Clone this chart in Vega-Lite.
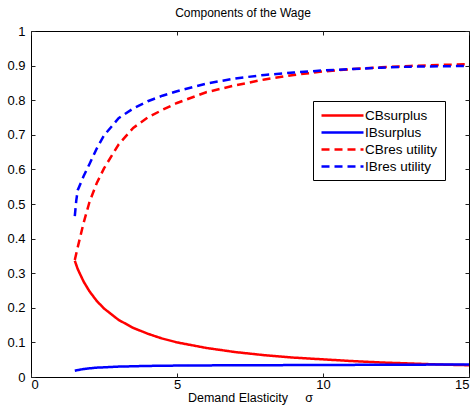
{
  "$schema": "https://vega.github.io/schema/vega-lite/v6.json",
  "autosize": "none",
  "width": 438,
  "height": 346,
  "padding": {"left": 31, "top": 31, "right": 6, "bottom": 34},
  "background": "white",
  "title": {"text": "Components of the Wage", "font": "Liberation Sans", "fontSize": 12, "fontWeight": "normal", "color": "black", "offset": 5, "dx": -7},
  "config": {
    "view": {"stroke": "black", "strokeWidth": 1},
    "axis": {"grid": false, "domain": false, "tickColor": "#222", "tickSize": -4, "labelFont": "Liberation Sans", "labelFontSize": 13, "labelColor": "black", "titleFont": "Liberation Sans", "titleFontSize": 12.5, "titleFontWeight": "normal", "titleColor": "black"},
    "legend": {"orient": "none", "legendX": 282, "legendY": 70, "strokeColor": "black", "fillColor": "white", "padding": 7, "symbolType": "M-1,0H6", "symbolSize": 144, "symbolStrokeWidth": 2.5, "labelFont": "Liberation Sans", "labelFontSize": 13.5, "labelColor": "black", "rowPadding": 3, "title": null, "labelOffset": 30}
  },
  "data": {"values": [
    {"sigma": 1.5, "value": 0.336, "series": "CBsurplus"},
    {"sigma": 1.6, "value": 0.312, "series": "CBsurplus"},
    {"sigma": 1.8, "value": 0.276, "series": "CBsurplus"},
    {"sigma": 2, "value": 0.248, "series": "CBsurplus"},
    {"sigma": 2.25, "value": 0.22, "series": "CBsurplus"},
    {"sigma": 2.5, "value": 0.198, "series": "CBsurplus"},
    {"sigma": 3, "value": 0.165, "series": "CBsurplus"},
    {"sigma": 3.5, "value": 0.142, "series": "CBsurplus"},
    {"sigma": 4, "value": 0.125, "series": "CBsurplus"},
    {"sigma": 4.5, "value": 0.111, "series": "CBsurplus"},
    {"sigma": 5, "value": 0.1, "series": "CBsurplus"},
    {"sigma": 6, "value": 0.084, "series": "CBsurplus"},
    {"sigma": 7, "value": 0.072, "series": "CBsurplus"},
    {"sigma": 8, "value": 0.063, "series": "CBsurplus"},
    {"sigma": 9, "value": 0.056, "series": "CBsurplus"},
    {"sigma": 10, "value": 0.051, "series": "CBsurplus"},
    {"sigma": 11, "value": 0.046, "series": "CBsurplus"},
    {"sigma": 12, "value": 0.042, "series": "CBsurplus"},
    {"sigma": 13, "value": 0.039, "series": "CBsurplus"},
    {"sigma": 14, "value": 0.036, "series": "CBsurplus"},
    {"sigma": 15, "value": 0.034, "series": "CBsurplus"},
    {"sigma": 1.5, "value": 0.018, "series": "IBsurplus"},
    {"sigma": 1.6, "value": 0.02, "series": "IBsurplus"},
    {"sigma": 1.8, "value": 0.023, "series": "IBsurplus"},
    {"sigma": 2, "value": 0.025, "series": "IBsurplus"},
    {"sigma": 2.25, "value": 0.027, "series": "IBsurplus"},
    {"sigma": 2.5, "value": 0.028, "series": "IBsurplus"},
    {"sigma": 3, "value": 0.03, "series": "IBsurplus"},
    {"sigma": 3.5, "value": 0.031, "series": "IBsurplus"},
    {"sigma": 4, "value": 0.032, "series": "IBsurplus"},
    {"sigma": 4.5, "value": 0.0325, "series": "IBsurplus"},
    {"sigma": 5, "value": 0.033, "series": "IBsurplus"},
    {"sigma": 6, "value": 0.0335, "series": "IBsurplus"},
    {"sigma": 7, "value": 0.034, "series": "IBsurplus"},
    {"sigma": 8, "value": 0.034, "series": "IBsurplus"},
    {"sigma": 9, "value": 0.0345, "series": "IBsurplus"},
    {"sigma": 10, "value": 0.035, "series": "IBsurplus"},
    {"sigma": 11, "value": 0.035, "series": "IBsurplus"},
    {"sigma": 12, "value": 0.0355, "series": "IBsurplus"},
    {"sigma": 13, "value": 0.0355, "series": "IBsurplus"},
    {"sigma": 14, "value": 0.036, "series": "IBsurplus"},
    {"sigma": 15, "value": 0.036, "series": "IBsurplus"},
    {"sigma": 1.5, "value": 0.338, "series": "CBres utility"},
    {"sigma": 1.6, "value": 0.375, "series": "CBres utility"},
    {"sigma": 1.8, "value": 0.445, "series": "CBres utility"},
    {"sigma": 2, "value": 0.505, "series": "CBres utility"},
    {"sigma": 2.25, "value": 0.56, "series": "CBres utility"},
    {"sigma": 2.5, "value": 0.603, "series": "CBres utility"},
    {"sigma": 3, "value": 0.672, "series": "CBres utility"},
    {"sigma": 3.5, "value": 0.72, "series": "CBres utility"},
    {"sigma": 4, "value": 0.75, "series": "CBres utility"},
    {"sigma": 4.5, "value": 0.772, "series": "CBres utility"},
    {"sigma": 5, "value": 0.792, "series": "CBres utility"},
    {"sigma": 6, "value": 0.823, "series": "CBres utility"},
    {"sigma": 7, "value": 0.843, "series": "CBres utility"},
    {"sigma": 8, "value": 0.86, "series": "CBres utility"},
    {"sigma": 9, "value": 0.873, "series": "CBres utility"},
    {"sigma": 10, "value": 0.883, "series": "CBres utility"},
    {"sigma": 11, "value": 0.89, "series": "CBres utility"},
    {"sigma": 12, "value": 0.895, "series": "CBres utility"},
    {"sigma": 13, "value": 0.899, "series": "CBres utility"},
    {"sigma": 14, "value": 0.902, "series": "CBres utility"},
    {"sigma": 15, "value": 0.904, "series": "CBres utility"},
    {"sigma": 1.5, "value": 0.465, "series": "IBres utility"},
    {"sigma": 1.55, "value": 0.51, "series": "IBres utility"},
    {"sigma": 1.6, "value": 0.54, "series": "IBres utility"},
    {"sigma": 1.8, "value": 0.58, "series": "IBres utility"},
    {"sigma": 2, "value": 0.615, "series": "IBres utility"},
    {"sigma": 2.25, "value": 0.66, "series": "IBres utility"},
    {"sigma": 2.5, "value": 0.698, "series": "IBres utility"},
    {"sigma": 3, "value": 0.748, "series": "IBres utility"},
    {"sigma": 3.5, "value": 0.776, "series": "IBres utility"},
    {"sigma": 4, "value": 0.797, "series": "IBres utility"},
    {"sigma": 4.5, "value": 0.813, "series": "IBres utility"},
    {"sigma": 5, "value": 0.826, "series": "IBres utility"},
    {"sigma": 6, "value": 0.848, "series": "IBres utility"},
    {"sigma": 7, "value": 0.863, "series": "IBres utility"},
    {"sigma": 8, "value": 0.873, "series": "IBres utility"},
    {"sigma": 9, "value": 0.88, "series": "IBres utility"},
    {"sigma": 10, "value": 0.886, "series": "IBres utility"},
    {"sigma": 11, "value": 0.89, "series": "IBres utility"},
    {"sigma": 12, "value": 0.894, "series": "IBres utility"},
    {"sigma": 13, "value": 0.897, "series": "IBres utility"},
    {"sigma": 14, "value": 0.898, "series": "IBres utility"},
    {"sigma": 15, "value": 0.899, "series": "IBres utility"}
  ]},
  "layer": [
    {
      "mark": {"type": "line", "strokeWidth": 2.5, "clip": true},
      "encoding": {
        "x": {"field": "sigma", "type": "quantitative", "scale": {"domain": [0, 15], "nice": false}, "axis": {"values": [0, 5, 10, 15], "title": "Demand Elasticity\u00a0\u00a0\u00a0\u00a0\u00a0σ", "titlePadding": 0, "labelPadding": 5}},
        "y": {"field": "value", "type": "quantitative", "scale": {"domain": [0, 1], "nice": false}, "axis": {"values": [0, 0.1, 0.2, 0.3, 0.4, 0.5, 0.6, 0.7, 0.8, 0.9, 1], "format": ".1~f", "title": null, "labelPadding": 10}},
        "color": {"field": "series", "type": "nominal", "scale": {"domain": ["CBsurplus", "IBsurplus", "CBres utility", "IBres utility"], "range": ["#ff0000", "#0000ff", "#ff0000", "#0000ff"]}},
        "strokeDash": {"field": "series", "type": "nominal", "scale": {"domain": ["CBsurplus", "IBsurplus", "CBres utility", "IBres utility"], "range": [[1, 0], [1, 0], [8, 5], [8, 5]]}}
      }
    },
    {
      "mark": {"type": "line", "opacity": 0},
      "encoding": {
        "x": {"field": "sigma", "type": "quantitative", "scale": {"domain": [0, 15], "nice": false}, "axis": {"orient": "top", "values": [0, 5, 10, 15], "labels": false, "title": null}},
        "y": {"field": "value", "type": "quantitative", "scale": {"domain": [0, 1], "nice": false}, "axis": {"orient": "right", "values": [0, 0.1, 0.2, 0.3, 0.4, 0.5, 0.6, 0.7, 0.8, 0.9, 1], "labels": false, "title": null}},
        "detail": {"field": "series"}
      }
    }
  ],
  "resolve": {"axis": {"x": "independent", "y": "independent"}}
}
